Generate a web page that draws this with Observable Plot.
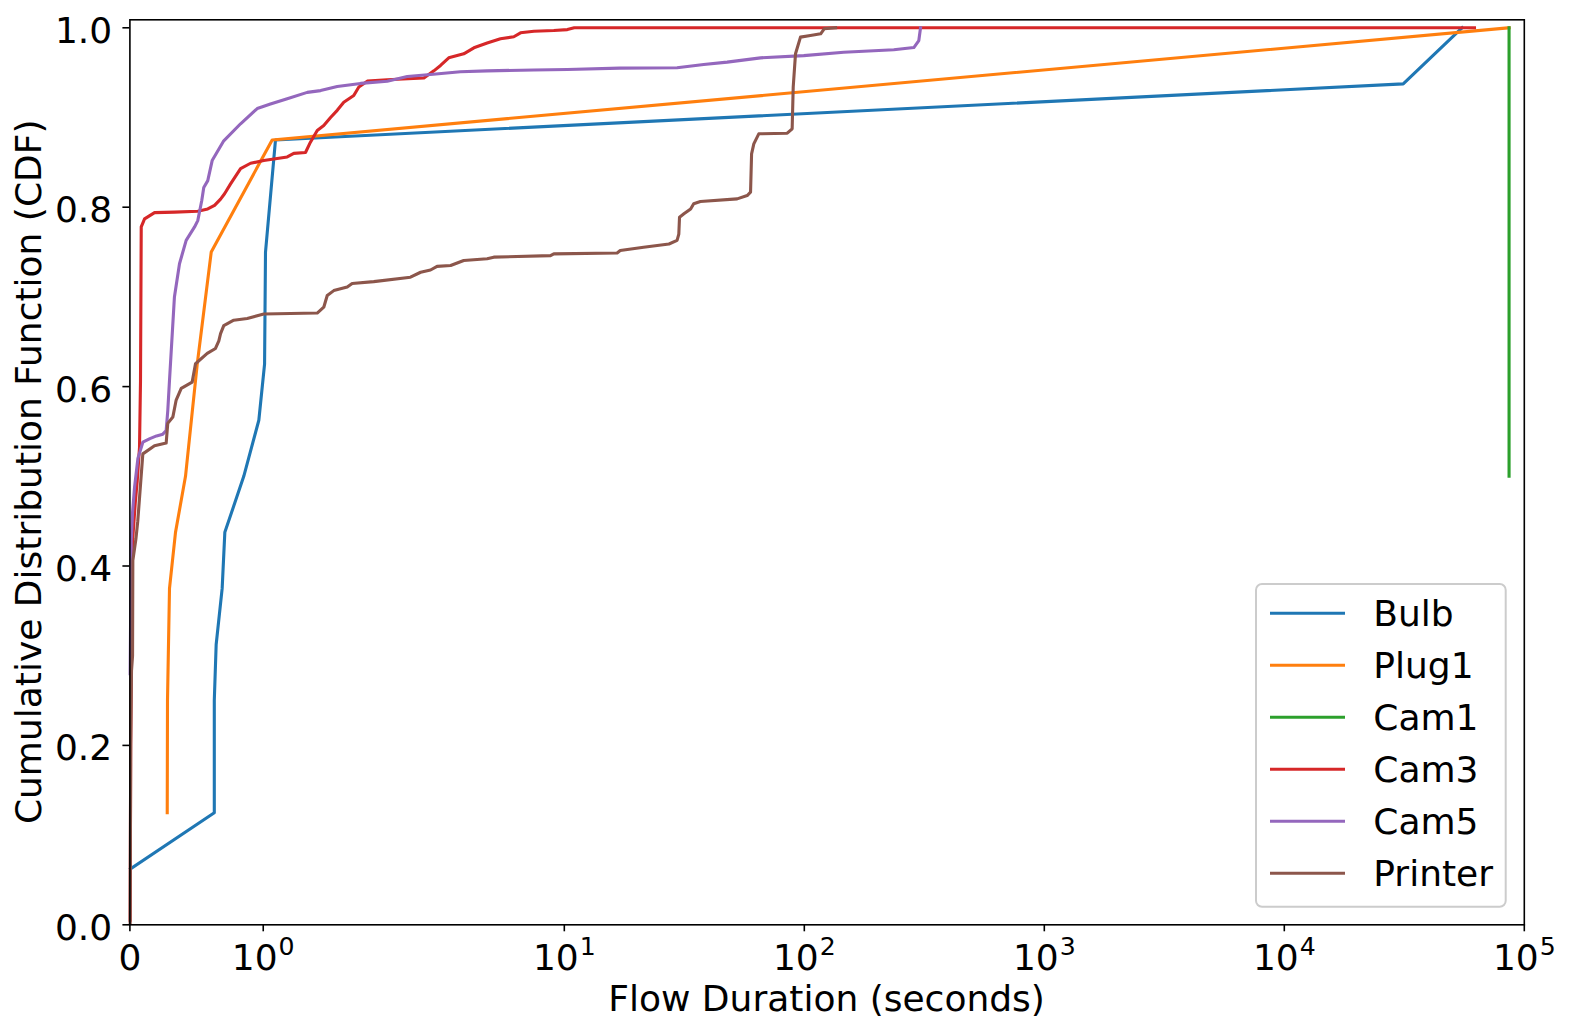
<!DOCTYPE html>
<html><head><meta charset="utf-8">
<script src="https://cdn.jsdelivr.net/npm/d3@7"></script>
<script src="https://cdn.jsdelivr.net/npm/@observablehq/plot@0.6"></script>
<style>html,body{margin:0;padding:0;background:#fff;} svg{display:block;}</style>
</head><body>
<div id="chart"></div>
<script>
// ---- data ----
const seriesNames = ["Bulb", "Plug1", "Cam1", "Cam3", "Cam5", "Printer"];
const seriesColors = ["#1f77b4", "#ff7f0e", "#2ca02c", "#d62728", "#9467bd", "#8c564b"];

const bulbDur = [0.005, 0.633, 0.633, 0.647, 0.692, 0.712, 0.854, 0.967, 1.01, 1.017, 1.092, 31300, 55100];
const bulbCdf = [0.0625, 0.125, 0.25, 0.3125, 0.375, 0.4375, 0.5, 0.5625, 0.625, 0.75, 0.875, 0.9375, 1.0];

const plug1Dur = [0.28, 0.282, 0.297, 0.342, 0.417, 0.505, 0.61, 1.067, 86400];
const plug1Cdf = [0.125, 0.25, 0.375, 0.4375, 0.5, 0.625, 0.75, 0.875, 1.0];

const cam1Dur = [86400, 86400];
const cam1Cdf = [0.5, 1.0];

const cam3Dur = [0.002, 0.006, 0.015, 0.022, 0.04, 0.055, 0.072, 0.0795, 0.085, 0.11, 0.185, 0.335, 0.509, 0.584, 0.635, 0.68, 0.71, 0.755, 0.83, 0.905, 1.004, 1.18, 1.229, 1.317, 1.354, 1.405, 1.454, 1.505, 1.555, 1.604, 1.679, 1.717, 1.78, 1.93, 2.6, 2.86, 3.05, 3.3, 3.81, 4.2, 4.77, 5.42, 6.16, 6.57, 7.47, 9.04, 10.3, 11, 62000];
const cam3Cdf = [0.005, 0.2, 0.38, 0.432, 0.47, 0.495, 0.532, 0.606, 0.778, 0.787, 0.794, 0.7945, 0.7955, 0.798, 0.802, 0.809, 0.815, 0.826, 0.843, 0.849, 0.852, 0.856, 0.86, 0.861, 0.8725, 0.8855, 0.891, 0.9, 0.908, 0.917, 0.9245, 0.934, 0.9405, 0.942, 0.944, 0.952, 0.958, 0.9665, 0.971, 0.9777, 0.983, 0.9877, 0.99, 0.9944, 0.9962, 0.997, 0.998, 1.0, 1.0];

const cam5Dur = [0.002, 0.01, 0.02, 0.035, 0.06, 0.097, 0.15, 0.2, 0.247, 0.272, 0.284, 0.297, 0.334, 0.372, 0.422, 0.485, 0.509, 0.539, 0.554, 0.584, 0.617, 0.704, 0.83, 0.955, 1.054, 1.18, 1.33, 1.43, 1.555, 1.73, 1.93, 2.216, 2.77, 3.69, 4.77, 7.47, 10.3, 17, 29.5, 38.1, 47.7, 65.7, 99.5, 146, 236, 286, 300, 305];
const cam5Cdf = [0.28, 0.428, 0.46, 0.488, 0.52, 0.538, 0.542, 0.545, 0.547, 0.551, 0.573, 0.607, 0.70, 0.737, 0.763, 0.778, 0.785, 0.8075, 0.822, 0.8296, 0.852, 0.874, 0.893, 0.910, 0.915, 0.921, 0.928, 0.930, 0.9346, 0.938, 0.9405, 0.9457, 0.948, 0.951, 0.952, 0.953, 0.9535, 0.955, 0.9554, 0.959, 0.9617, 0.9665, 0.969, 0.9728, 0.9755, 0.978, 0.9858, 1.0];

const printerDur = [0.002, 0.006, 0.012, 0.02, 0.022, 0.045, 0.059, 0.097, 0.1845, 0.272, 0.284, 0.322, 0.347, 0.385, 0.467, 0.492, 0.58, 0.642, 0.667, 0.68, 0.704, 0.779, 0.88, 1.004, 1.405, 1.454, 1.48, 1.529, 1.63, 1.667, 1.829, 2.285, 2.52, 2.77, 2.95, 3.36, 3.81, 4.77, 5.08, 8.76, 9.04, 16.6, 17.1, 21.4, 27.3, 29.5, 30.0, 30.2, 31.5, 33.6, 34.6, 36.9, 52.5, 57.8, 59.7, 60.3, 61.6, 64.6, 84.9, 89.0, 89.9, 91.9, 96.4, 106, 117, 121, 135];
const printerCdf = [0.002, 0.2, 0.283, 0.30, 0.406, 0.43, 0.45, 0.525, 0.534, 0.537, 0.559, 0.566, 0.585, 0.598, 0.605, 0.6255, 0.637, 0.6425, 0.651, 0.659, 0.668, 0.674, 0.676, 0.681, 0.682, 0.6885, 0.7016, 0.707, 0.711, 0.715, 0.717, 0.722, 0.7275, 0.730, 0.734, 0.735, 0.7406, 0.7425, 0.7443, 0.746, 0.748, 0.749, 0.7517, 0.7554, 0.759, 0.763, 0.770, 0.7888, 0.7926, 0.798, 0.8038, 0.8063, 0.8093, 0.813, 0.8167, 0.8595, 0.8706, 0.8818, 0.8825, 0.8874, 0.934, 0.971, 0.9896, 0.9914, 0.9933, 0.9989, 1.0];

const xTickValues = [0, 1, 10, 100, 1000, 10000, 100000];
const xTickLabels = ["0", "10^0", "10^1", "10^2", "10^3", "10^4", "10^5"];
const yTickValues = [0, 0.2, 0.4, 0.6, 0.8, 1.0];
const xLabel = "Flow Duration (seconds)";
const yLabel = "Cumulative Distribution Function (CDF)";

// ---- matplotlib-style symlog (linthresh 2, linscale 1, base 10) ----
const LINTHRESH = 2, LINSCALE_ADJ = 1 / (1 - 1 / 10);
function symlog(v) {
  const a = Math.abs(v), s = Math.sign(v);
  return a <= LINTHRESH ? v * LINSCALE_ADJ : s * LINTHRESH * (LINSCALE_ADJ + Math.log10(a / LINTHRESH));
}

const durs = [bulbDur, plug1Dur, cam1Dur, cam3Dur, cam5Dur, printerDur];
const cdfs = [bulbCdf, plug1Cdf, cam1Cdf, cam3Cdf, cam5Cdf, printerCdf];
const tables = seriesNames.map((name, i) => durs[i].map((d, j) => ({series: name, dur: d, cdf: cdfs[i][j]})));

const FONT = 36;
const FAMILY = "'DejaVu Sans', sans-serif";
const W = 1570, H = 1033;
const mL = 129.4, mR = 46.2, mT = 19.3, mB = 108.7;
const yTop = (H - mT - mB) / 897;

const tickT = xTickValues.map(symlog);
function xFmt(v) {
  let best = 0, bd = Infinity;
  tickT.forEach((t, i) => { const d = Math.abs(t - v); if (d < bd) { bd = d; best = i; } });
  return xTickLabels[best];
}

const svg = Plot.plot({
  width: W, height: H,
  marginLeft: mL, marginRight: mR, marginTop: mT, marginBottom: mB,
  style: {fontFamily: FAMILY, background: "white", color: "black", overflow: "visible"},
  x: {type: "linear", domain: [0, symlog(100000)]},
  y: {domain: [0, yTop]},
  marks: [
    ...tables.map((t, i) => Plot.line(t, {
      x: d => symlog(d.dur), y: "cdf",
      stroke: seriesColors[i], strokeWidth: 3.1,
      strokeLinejoin: "round", strokeLinecap: "square"
    })),
    Plot.frame({stroke: "black", strokeWidth: 1.6}),
    Plot.axisY({ticks: yTickValues, tickFormat: d3.format(".1f"), tickSize: 7, tickPadding: 10.7,
      fontSize: FONT, label: null, stroke: "black", strokeWidth: 1.6}),
    Plot.axisX({ticks: tickT, tickFormat: xFmt, tickSize: 7, tickPadding: 13,
      fontSize: FONT, label: null, stroke: "black", strokeWidth: 1.6})
  ]
});
document.getElementById("chart").appendChild(svg);

// ---- post-process text: superscripts, label offsets, axis titles, legend ----
const S = d3.select(svg);
S.selectAll('g[aria-label="x-axis tick label"] text').each(function() {
  const txt = this.textContent;
  if (txt.startsWith("10^")) {
    const sel = d3.select(this);
    sel.text(null);
    sel.append("tspan").text("10");
    sel.append("tspan").attr("font-size", FONT * 0.7).attr("dy", -15).attr("dx", 1).text(txt.slice(3));
  }
});
const yg = svg.querySelector('g[aria-label="y-axis tick label"]');
if (yg) yg.setAttribute("transform", (yg.getAttribute("transform") || "") + " translate(0,3.5)");

S.append("text")
  .attr("transform", `translate(41,${(mT + H - mB) / 2}) rotate(-90)`)
  .attr("text-anchor", "middle").attr("font-size", FONT).attr("fill", "black")
  .attr("font-family", FAMILY)
  .text(yLabel);
S.append("text")
  .attr("x", mL + (W - mL - mR) / 2).attr("y", 1011)
  .attr("text-anchor", "middle").attr("font-size", FONT).attr("fill", "black")
  .attr("font-family", FAMILY)
  .text(xLabel);

const leg = S.append("g").attr("font-family", FAMILY).attr("font-size", FONT).attr("text-anchor", "start");
leg.append("rect").attr("x", 1256).attr("y", 584).attr("width", 249.7).attr("height", 322.7)
  .attr("rx", 6).attr("fill", "white").attr("fill-opacity", 0.8)
  .attr("stroke", "#cccccc").attr("stroke-width", 2);
seriesNames.forEach((name, i) => {
  const y = 613.3 + 52 * i;
  leg.append("line").attr("x1", 1270).attr("x2", 1345).attr("y1", y).attr("y2", y)
    .attr("stroke", seriesColors[i]).attr("stroke-width", 3.1);
  leg.append("text").attr("x", 1373.3).attr("y", y + 13).attr("fill", "black")
    .attr("text-anchor", "start").text(name);
});
</script>
</body></html>
